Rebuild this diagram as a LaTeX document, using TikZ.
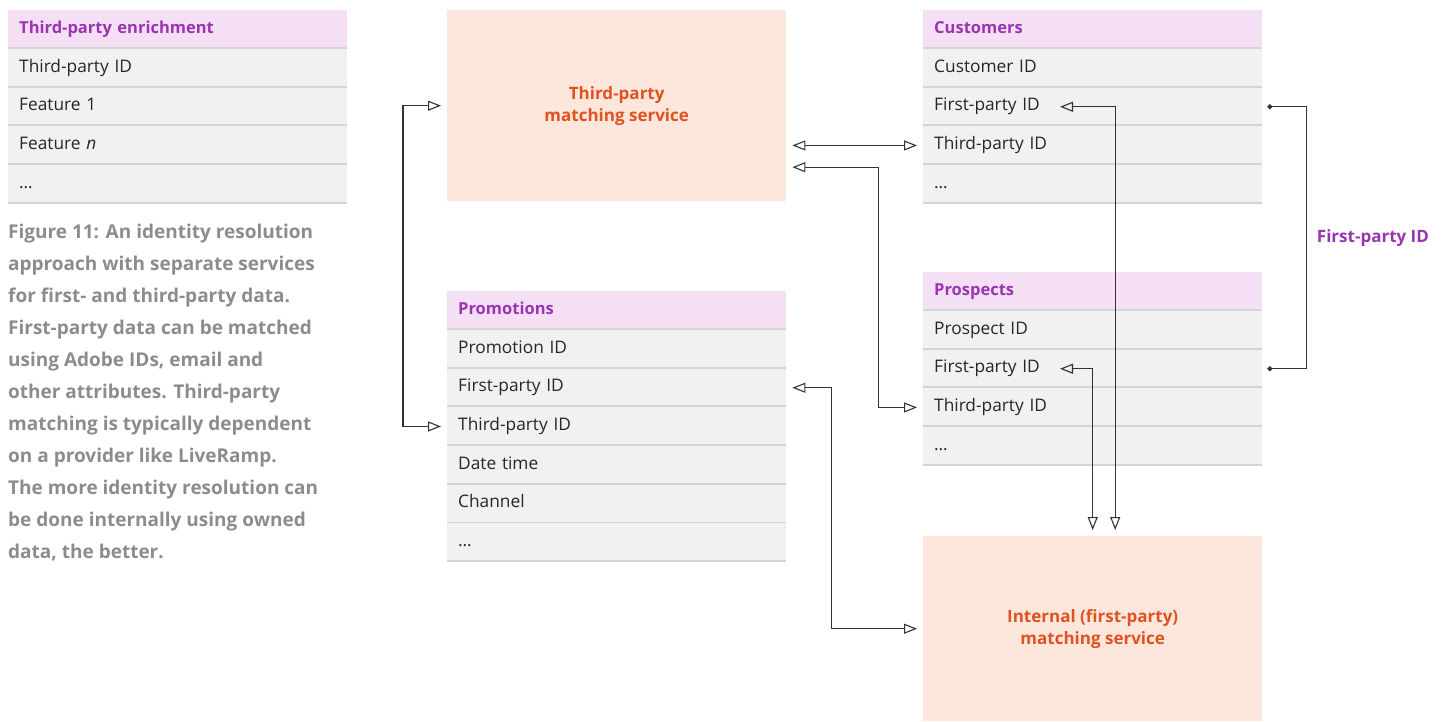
\documentclass[tikz,border=0pt]{standalone}
\usepackage{fontspec}
\setmainfont{Open Sans}
\usetikzlibrary{positioning,arrows.meta}

\definecolor{hdrpink}{HTML}{F5DFF5}
\definecolor{rowgray}{HTML}{F1F1F1}
\definecolor{sepgray}{HTML}{D4D4D4}
\definecolor{svcpeach}{HTML}{FDE7DD}
\definecolor{svcorange}{HTML}{E0521F}
\definecolor{hdrpurple}{HTML}{9A34B3}
\definecolor{capgray}{HTML}{8C8C8C}
\definecolor{linkgray}{HTML}{333333}

\tikzset{
	cell/.style={rectangle, text width=317pt, inner xsep=11pt, inner ysep=0pt,
		minimum height=38.3pt, text height=12pt, text depth=4pt, align=left,
		path picture={\draw[sepgray, line width=3pt] (path picture bounding box.south west) -- (path picture bounding box.south east);}},
	tblhead/.style={cell, fill=hdrpink, text=hdrpurple, font=\fontsize{16.5}{20}\selectfont\bfseries},
	tblrow/.style={cell, fill=rowgray, text=black!85, font=\fontsize{17.3}{20}\selectfont},
	service/.style={rectangle, fill=svcpeach, minimum width=339pt, text=svcorange,
		font=\fontsize{17}{22}\selectfont\bfseries, align=center, anchor=north west},
	link/.style={draw=linkgray, line width=1.1pt,
		{Triangle[open,length=13pt,width=10pt]}-{Triangle[open,length=13pt,width=10pt]},
		shorten <=6pt, shorten >=6pt},
	dotlink/.style={draw=linkgray, line width=1.1pt, {Circle[length=5pt]}-{Circle[length=5pt]},
		shorten <=5pt, shorten >=5pt}
}

\begin{document}
\begin{tikzpicture}[x=1pt, y=-1pt]
	\useasboundingbox (0,0) rectangle (1442,721);

	% third-party enrichment table
	\node[tblhead, anchor=north west] (enr) at (8,10) {Third-party enrichment};
	\node[tblrow, below=0pt of enr] (enr1) {Third-party ID};
	\node[tblrow, below=0pt of enr1] (enr2) {Feature 1};
	\node[tblrow, below=0pt of enr2] (enr3) {Feature \textit{n}};
	\node[tblrow, below=0pt of enr3] (enr4) {\dots};

	\node[anchor=north west, inner sep=0pt, align=left, text=capgray,
		font=\fontsize{19}{32}\selectfont\bfseries] (cap) at (8,224)
		{Figure 11: An identity resolution\\
		approach with separate services\\
		for first- and third-party data.\\
		First-party data can be matched\\
		using Adobe IDs, email and\\
		other attributes. Third-party\\
		matching is typically dependent\\
		on a provider like LiveRamp.\\
		The more identity resolution can\\
		be done internally using owned\\
		data, the better.};

	% services
	\node[service, minimum height=191pt] (tpms) at (447,10) {Third-party\\matching service};
	\node[service, minimum height=185pt] (ims) at (923,536) {Internal (first-party)\\matching service};

	% customers
	\node[tblhead, anchor=north west] (cust) at (923,10) {Customers};
	\node[tblrow, below=0pt of cust] (cust1) {Customer ID};
	\node[tblrow, below=0pt of cust1] (cust2) {First-party ID};
	\node[tblrow, below=0pt of cust2] (cust3) {Third-party ID};
	\node[tblrow, below=0pt of cust3] (cust4) {\dots};

	% prospects
	\node[tblhead, anchor=north west] (pros) at (923,272) {Prospects};
	\node[tblrow, below=0pt of pros] (pros1) {Prospect ID};
	\node[tblrow, below=0pt of pros1] (pros2) {First-party ID};
	\node[tblrow, below=0pt of pros2] (pros3) {Third-party ID};
	\node[tblrow, below=0pt of pros3] (pros4) {\dots};

	% promotions
	\node[tblhead, anchor=north west] (promo) at (447,291) {Promotions};
	\node[tblrow, below=0pt of promo] (promo1) {Promotion ID};
	\node[tblrow, below=0pt of promo1] (promo2) {First-party ID};
	\node[tblrow, below=0pt of promo2] (promo3) {Third-party ID};
	\node[tblrow, below=0pt of promo3] (promo4) {Date time};
	\node[tblrow, below=0pt of promo4] (promo5) {Channel};
	\node[tblrow, below=0pt of promo5] (promo6) {\dots};

	% links
	\draw[link] (tpms.west) -- ++(-44,0) |- (promo3.west);
	\draw[link] (tpms.east |- cust3.west) -- (cust3.west);
	\draw[link] ([yshift=-61.5pt]tpms.east) -- ++(92,0) |- (pros3.west);
	\draw[link] ([xshift=131pt]cust2.west) -| ([xshift=22.5pt]ims.north);
	\draw[link] ([xshift=131pt]pros2.west) -| (ims.north);
	\draw[link] (promo2.east) -- ++(45,0) |- (ims.west);
	\draw[dotlink] (cust2.east) -- ++(44,0) |- node[pos=0.25, anchor=west, inner xsep=10pt,
		text=hdrpurple, font=\fontsize{17}{20}\selectfont\bfseries] (fpid) {First-party ID} (pros2.east);
\end{tikzpicture}
\end{document}
